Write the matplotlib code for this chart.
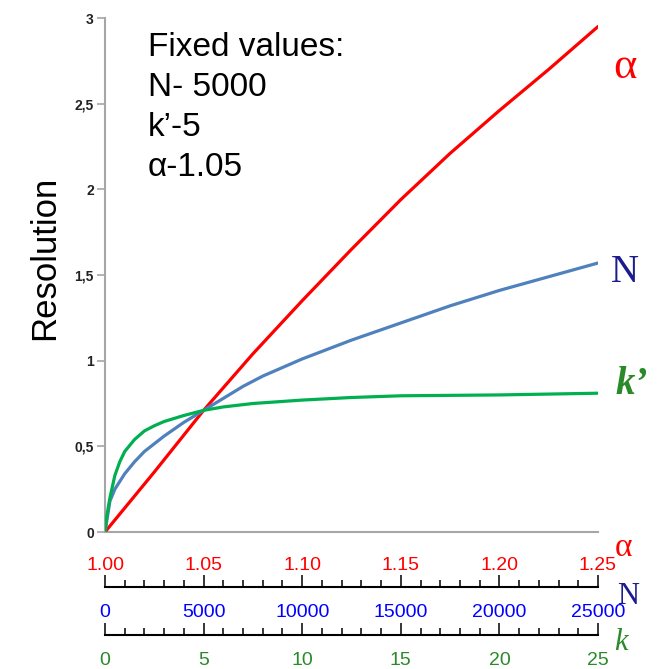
import matplotlib
matplotlib.use("Agg")
import matplotlib.pyplot as plt
from matplotlib.ticker import MultipleLocator, FixedLocator, FormatStrFormatter

plt.rcParams['font.family'] = ['Liberation Sans', 'DejaVu Sans']

# values
alpha_vals = [1.00, 1.0125, 1.025, 1.0375, 1.05, 1.075, 1.10, 1.125, 1.15,
              1.175, 1.20, 1.225, 1.25]
res_alpha = [0.0, 0.175, 0.35, 0.53, 0.71, 1.04, 1.35, 1.65, 1.94,
             2.21, 2.46, 2.70, 2.95]

n_vals = [0, 250, 500, 1000, 1500, 2000, 3000, 4000, 5000, 6000, 7000, 8000,
          9000, 10000, 12500, 15000, 17500, 20000, 22500, 25000]
res_n = [0.0, 0.18, 0.25, 0.34, 0.41, 0.47, 0.56, 0.64, 0.71, 0.78, 0.85, 0.91,
         0.96, 1.01, 1.12, 1.22, 1.32, 1.41, 1.49, 1.57]

k_vals = [0, 0.1, 0.25, 0.5, 0.75, 1, 1.5, 2, 2.5, 3, 4, 5, 6, 7.5, 10, 12.5,
          15, 20, 25]
res_k = [0.0, 0.10, 0.20, 0.33, 0.41, 0.47, 0.54, 0.59, 0.62, 0.645, 0.68, 0.71,
         0.73, 0.75, 0.77, 0.785, 0.795, 0.80, 0.81]

y_ticks = [0, 0.5, 1, 1.5, 2, 2.5, 3]
y_ticklabels = ["0", "0,5", "1", "1,5", "2", "2,5", "3"]
alpha_ticks = [1.00, 1.05, 1.10, 1.15, 1.20, 1.25]
n_ticks = [0, 5000, 10000, 15000, 20000, 25000]
k_ticks = [0, 5, 10, 15, 20, 25]

fixed_text = "Fixed values:\nN- 5000\nk\u2019-5\n\u03b1-1.05"

RED = "#FF0000"
BLUE = "#4F81BD"
GREEN = "#00B050"
NAVY = "#1C1C8C"
DKGREEN = "#2A8A2A"
GRAY = "#A6A6A6"

W, H = 661, 669
fig = plt.figure(figsize=(W / 100, H / 100), dpi=100)

ax = fig.add_axes([105 / W, 1 - 532 / H, 493 / W, 514 / H])
ax.set_xlim(1.00, 1.25)
ax.set_ylim(0, 3)
for s in ["top", "right"]:
    ax.spines[s].set_visible(False)
for s in ["left", "bottom"]:
    ax.spines[s].set_color(GRAY)
    ax.spines[s].set_linewidth(1.5)

ax.yaxis.set_major_locator(FixedLocator(y_ticks))
ax.set_yticklabels(y_ticklabels)
ax.tick_params(axis="y", direction="out", length=6, width=1.2, color=GRAY,
               pad=2, labelsize=10, labelcolor="#222222")
for t in ax.get_yticklabels():
    t.set_fontweight("bold")

ax.xaxis.set_major_locator(FixedLocator(alpha_ticks))
ax.xaxis.set_major_formatter(FormatStrFormatter("%.2f"))
ax.tick_params(axis="x", length=0, pad=18, labelsize=14, labelcolor=RED)

ax.set_ylabel("Resolution", fontsize=25)
ax.yaxis.set_label_coords(-0.088, 0.533)

ax.plot(alpha_vals, res_alpha, color=RED, lw=2.3, solid_capstyle="round", zorder=3)


def scale_axis(parent, lim, ticks, minor, outward, color, pad):
    tw = parent.twiny()
    tw.set_xlim(*lim)
    tw.patch.set_visible(False)
    for s in ["top", "left", "right"]:
        tw.spines[s].set_visible(False)
    tw.spines["bottom"].set_visible(True)
    tw.spines["bottom"].set_position(("outward", outward))
    tw.spines["bottom"].set_color("black")
    tw.spines["bottom"].set_linewidth(1.5)
    tw.xaxis.set_ticks_position("bottom")
    tw.xaxis.set_label_position("bottom")
    tw.xaxis.set_major_locator(FixedLocator(ticks))
    tw.xaxis.set_minor_locator(MultipleLocator(minor))
    tw.tick_params(axis="x", which="major", direction="in", length=8.6, width=1.1,
                   color="black", pad=pad, labelsize=14, labelcolor=color)
    tw.tick_params(axis="x", which="minor", direction="in", length=5, width=1.1,
                   color="black")
    return tw


ax_n = scale_axis(ax, (0, 25000), n_ticks, 1000, 39.6, "#0000FF", 12.5)
ax_k = scale_axis(ax, (0, 25), k_ticks, 1, 74.2, DKGREEN, 12.5)

ax_n.plot(n_vals, res_n, color=BLUE, lw=2.3, solid_capstyle="round", zorder=3)
ax_k.plot(k_vals, res_k, color=GREEN, lw=2.3, solid_capstyle="round", zorder=3)

fig.text(148 / W, 1 - 32 / H, fixed_text, fontsize=24, va="top", ha="left",
         linespacing=1.38)

serif = ["Liberation Serif", "DejaVu Serif"]
fig.text(625 / W, 1 - 67 / H, "\u03b1", fontsize=32, color=RED, family=serif,
         ha="center", va="center")
fig.text(625 / W, 1 - 272 / H, "N", fontsize=28, color=NAVY, family=serif,
         ha="center", va="center")
fig.text(632 / W, 1 - 384 / H, "k\u2019", fontsize=28, color=DKGREEN, family=serif,
         style="italic", weight="bold", ha="center", va="center")

fig.text(624 / W, 1 - 548 / H, "\u03b1", fontsize=24, color=RED, family=serif,
         ha="center", va="center")
fig.text(628 / W, 1 - 597 / H, "N", fontsize=22, color=NAVY, family=serif,
         ha="center", va="center")
fig.text(621 / W, 1 - 643 / H, "k", fontsize=22, color=DKGREEN, family=serif,
         style="italic", ha="center", va="center")

fig.savefig("out.png", dpi=100)
